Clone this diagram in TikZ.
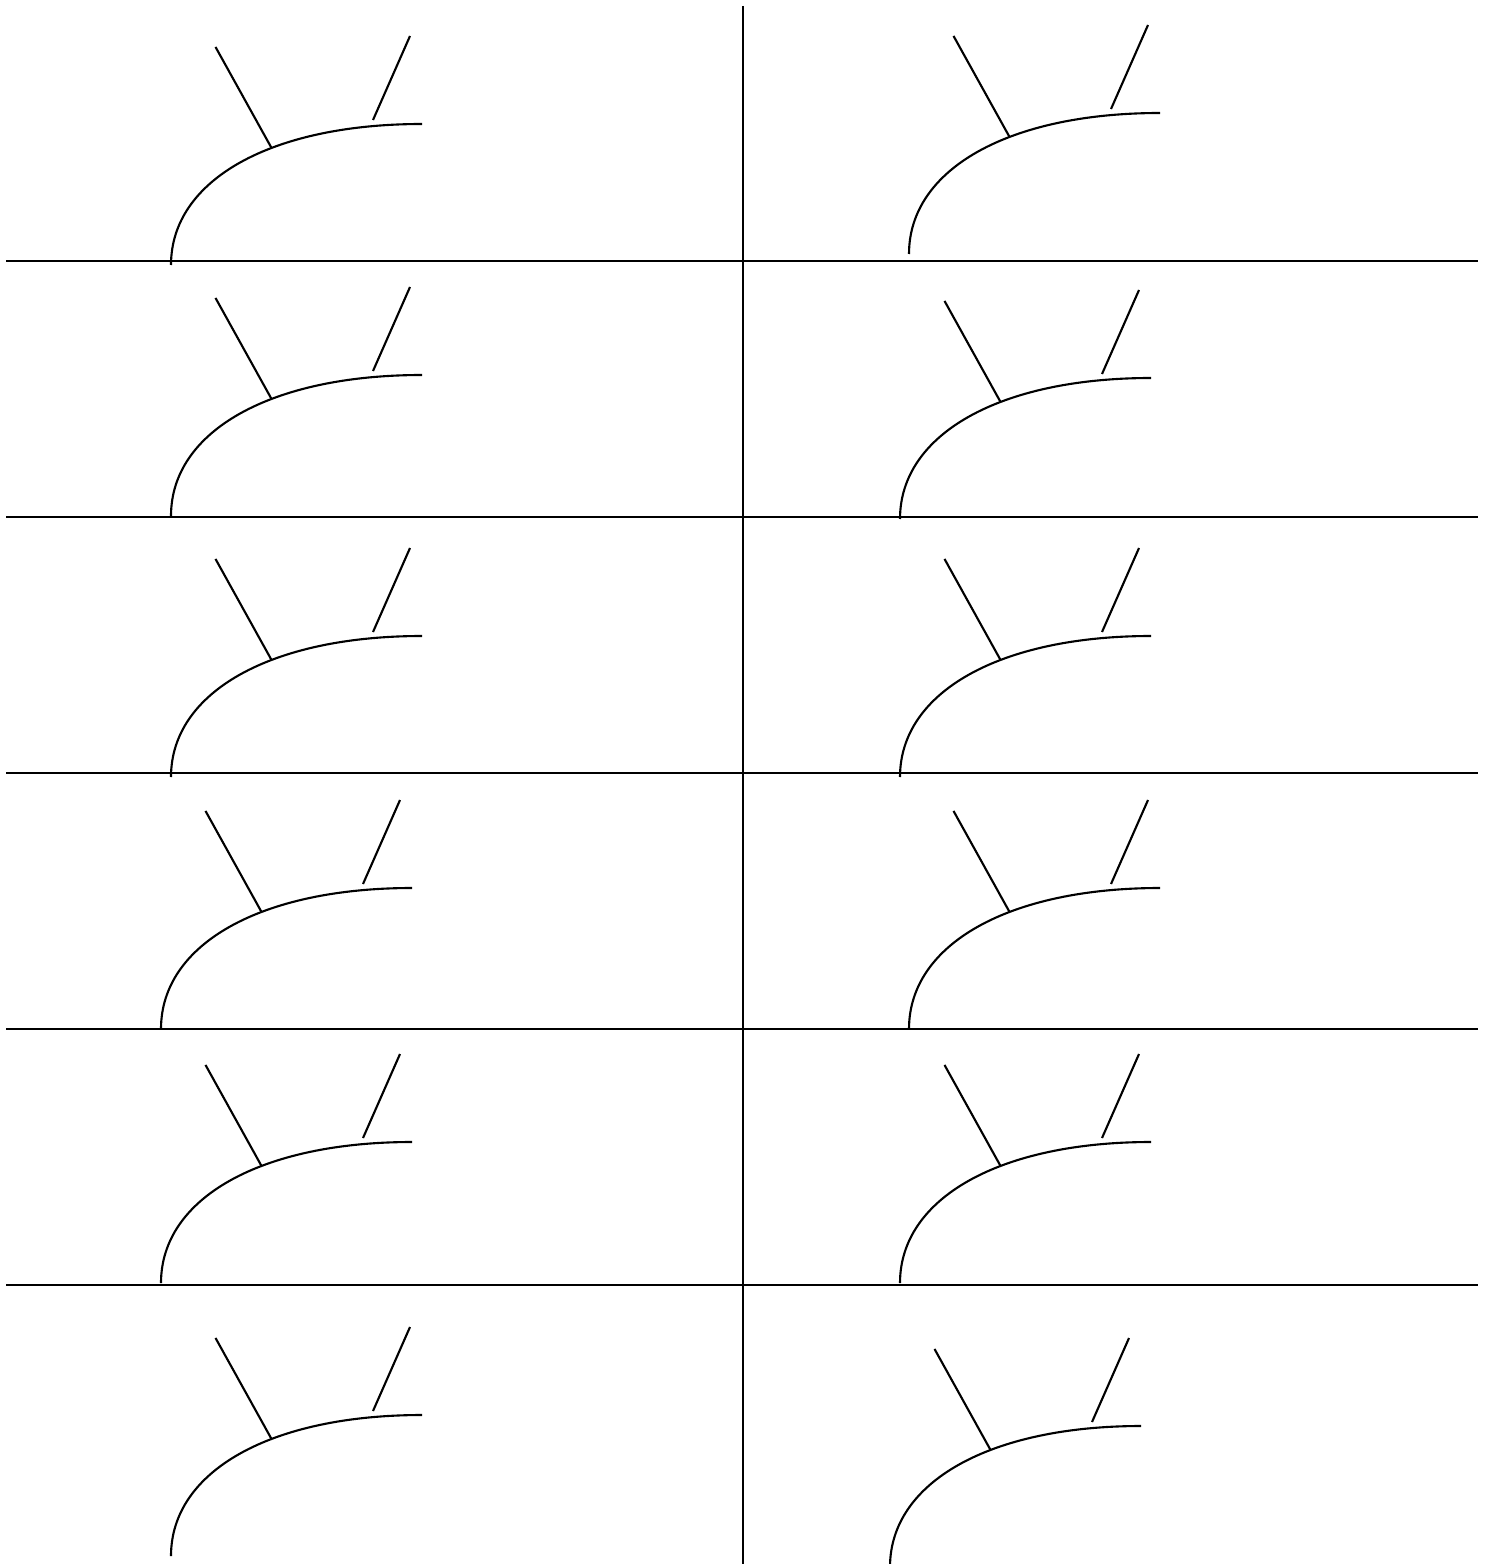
\documentclass[tikz,border=0pt]{standalone}
\usepackage{tikz}
\usetikzlibrary{calc}
\begin{document}
\begin{tikzpicture}[x=0.01cm,y=-0.01cm,every path/.style={line width=0.6pt}]
  \useasboundingbox (0,0) rectangle (1491,1564);
  % grid of cells
  \foreach \r in {261,517,773,1029,1285}
     {\draw (6,\r) -- (1478,\r);}
  \draw (743,6) -- (743,1564);
  % one sprout per cell, placed at the foot of its arc
  \foreach \x/\y in {171/265,909/254,171/516,900/519,171/777,900/777,
                     161/1029,909/1029,161/1283,900/1283,171/1556,890/1567}
     {\begin{scope}[shift={(\x,\y)}]
        \draw (0,0) .. controls (0,-85) and (100,-141) .. (251,-141)
              coordinate[pos=0.61] (foot);
        \draw (foot) -- ++(-56,-101);
        \draw (202,-145) -- (239,-229);
      \end{scope}}
\end{tikzpicture}
\end{document}
